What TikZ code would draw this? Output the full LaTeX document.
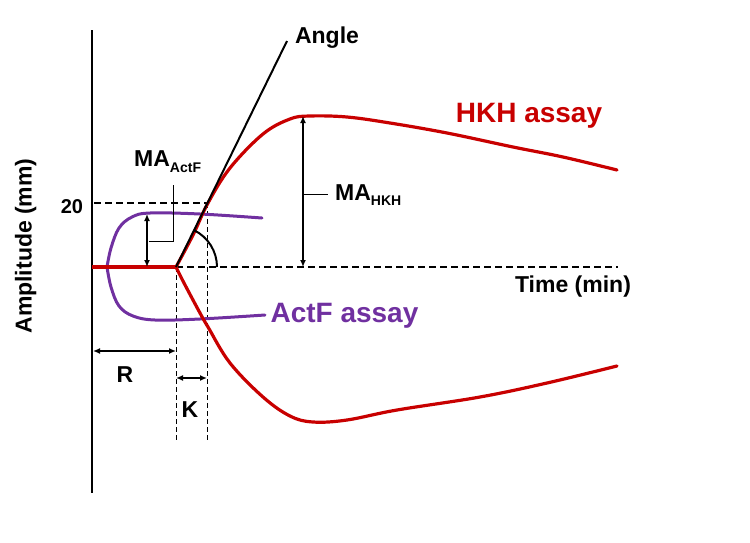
\documentclass[tikz,border=0pt]{standalone}
\usepackage{fontspec}
\setmainfont{Liberation Sans}
\usetikzlibrary{arrows.meta}
\definecolor{hkhred}{RGB}{200,0,0}
\definecolor{actfpurple}{RGB}{112,48,160}
\begin{document}
\begin{tikzpicture}[x=1pt,y=-1pt,
  lbl/.style={font=\fontsize{23}{27}\selectfont\bfseries, inner sep=0pt},
  biglbl/.style={font=\fontsize{28}{32}\selectfont\bfseries, inner sep=0pt},
  axisline/.style={line width=2.5pt, black},
  dashedthick/.style={line width=1.8pt, dash pattern=on 7pt off 4pt},
  dashedthin/.style={line width=0.9pt, dash pattern=on 5pt off 3pt},
  hkhcurve/.style={hkhred, line width=3.2pt, line join=round, line cap=round},
  actfcurve/.style={actfpurple, line width=3pt, line join=round, line cap=round},
  dimarrow/.style={line width=1.8pt, {Latex[length=7pt,width=6pt]}-{Latex[length=7pt,width=6pt]}},
  leader/.style={line width=1pt},
  anglestyle/.style={line width=2pt}]
\useasboundingbox (0,0) rectangle (750,542);

% key coordinates
\coordinate (axtop) at (92,30);
\coordinate (axbot) at (92,493);
\coordinate (O) at (176,267);
\coordinate (start) at (92,267);
\coordinate (y20l) at (94,203);
\coordinate (y20r) at (207,203);
\coordinate (baseend) at (618,267);
\coordinate (vOend) at (176,440);
\coordinate (vKend) at (207,440);
\coordinate (angtop) at (287,41);
\coordinate (pjoin) at (107,267);

% axis
\draw[axisline] (axtop) -- (axbot);

% dashed guides
\draw[dashedthick] (y20l) -- (y20r);
\draw[dashedthick] (O) -- (baseend);
\draw[dashedthin] (O) -- (vOend);
\draw[dashedthin] (y20r) -- (vKend);

% ActF assay (purple)
\draw[actfcurve] plot[smooth, tension=0.6] coordinates {(107,267) (111,248) (119,228) (132,217) (150,213) (200,214) (262,218)};
\draw[actfcurve] plot[smooth, tension=0.6] coordinates {(107,267) (111,287) (119,306) (133,316) (155,320) (200,319) (265,315)};

% HKH assay (red)
\draw[hkhred, line width=3.8pt] (start) -- (O);
\draw[hkhcurve] plot[smooth, tension=0.6] coordinates {(176,267) (193,235) (208,203) (230,168) (263,134) (290,119) (310,116) (347,117) (390,123) (447,133) (513,147) (563,157) (617,170)};
\draw[hkhcurve] plot[smooth, tension=0.6] coordinates {(176,267) (184,283) (200,313) (208,327) (230,363) (263,397) (290,416) (313,422) (347,420) (397,410) (480,397) (547,383) (617,366)};

% angle
\draw[anglestyle] (O) -- (angtop);
\draw[anglestyle] (O) ++(-63.8:41) arc[start angle=-63.8, end angle=0, radius=41];

% MA ActF
\coordinate (maa1) at (147,214);
\coordinate (maa2) at (147,267);
\draw[dimarrow] (maa1) -- (maa2);
\draw[leader] (149,241) -- (173,241) -- (173,185);
\node[lbl, anchor=base west] (maactf) at (134,166) {MA\raisebox{-6pt}{\fontsize{14}{16}\selectfont ActF}};

% MA HKH
\coordinate (mah1) at (303,116);
\coordinate (mah2) at (303,267);
\draw[dimarrow] (mah1) -- (mah2);
\draw[leader] (304,194) -- (328,194);
\node[lbl, anchor=base west] (mahkh) at (335,200) {MA\raisebox{-5pt}{\fontsize{14}{16}\selectfont HKH}};

% R and K
\coordinate (r1) at (93,351);
\coordinate (r2) at (176,351);
\draw[dimarrow] (r1) -- (r2);
\coordinate (k1) at (176,378);
\coordinate (k2) at (207,378);
\draw[dimarrow] (k1) -- (k2);
\node[lbl, anchor=base] (R) at (125,382) {R};
\node[lbl, anchor=base] (K) at (190,417) {K};

% labels
\node[lbl, anchor=base] (angle) at (327,43) {Angle};
\node[biglbl, hkhred, anchor=base] (hkh) at (529,122) {HKH assay};
\node[biglbl, actfpurple, anchor=base] (actf) at (344.5,322) {ActF assay};
\node[lbl, anchor=base] (time) at (573,292) {Time (min)};
\node[font=\fontsize{20}{24}\selectfont\bfseries, inner sep=0pt, anchor=base] (twenty) at (72,213) {20};
\node[lbl, rotate=90, anchor=base] (amp) at (31.5,246) {Amplitude (mm)};
\end{tikzpicture}
\end{document}
